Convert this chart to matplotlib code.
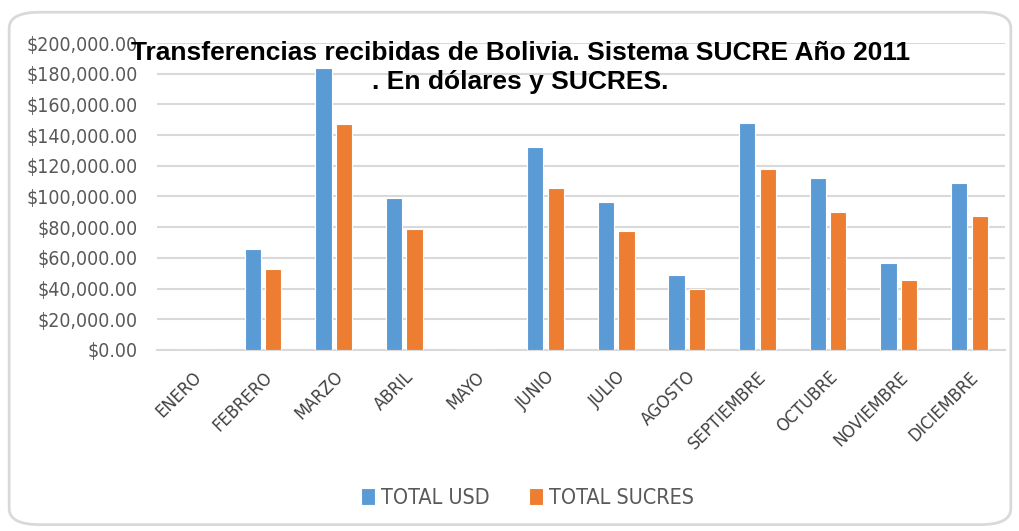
import matplotlib.pyplot as plt
import numpy as np
from matplotlib.patches import FancyBboxPatch
from matplotlib.ticker import FuncFormatter

# --- Data ---
months = ["ENERO", "FEBRERO", "MARZO", "ABRIL", "MAYO", "JUNIO", "JULIO",
          "AGOSTO", "SEPTIEMBRE", "OCTUBRE", "NOVIEMBRE", "DICIEMBRE"]
total_usd = [0, 65500, 183900, 99100, 0, 132250, 96450,
             49000, 148100, 112300, 56400, 109050]
total_sucres = [0, 52500, 147450, 78900, 0, 105800, 77200,
                39700, 118200, 89750, 45500, 87350]

BLUE = '#5B9BD5'
ORANGE = '#ED7D31'
GRID = '#D9D9D9'
TXT = '#595959'

plt.rcParams['font.family'] = ['DejaVu Sans']
plt.rcParams['font.stretch'] = 'condensed'

fig = plt.figure(figsize=(10.2, 5.31), dpi=100)
ax = fig.add_axes([0.154, 0.341, 0.831, 0.578])

# rounded chart border
border = FancyBboxPatch((0.009, 0.012), 0.982, 0.965, boxstyle="round,pad=0,rounding_size=0.03",
                        transform=fig.transFigure, facecolor='white', edgecolor=GRID,
                        linewidth=2, zorder=-10)
fig.patches.append(border)

x = np.arange(len(months))
w = 0.23
ax.bar(x - 0.145, total_usd, width=w, color=BLUE, edgecolor='white', linewidth=0.8,
       label='TOTAL USD', zorder=3)
ax.bar(x + 0.145, total_sucres, width=w, color=ORANGE, edgecolor='white', linewidth=0.8,
       label='TOTAL SUCRES', zorder=3)

ax.set_xlim(-0.5, len(months) - 0.5)
ax.set_ylim(0, 200000)
ax.set_yticks(np.arange(0, 200001, 20000))
ax.yaxis.set_major_formatter(FuncFormatter(lambda v, p: f"${v:,.2f}"))
ax.grid(axis='y', color=GRID, linewidth=1.5, zorder=0)
ax.set_axisbelow(True)

ax.set_xticks(x)
ax.set_xticklabels(months, rotation=45, ha='right', va='top', rotation_mode='anchor',
                   fontsize=13, color='#404040')
ax.tick_params(axis='both', length=0)
ax.tick_params(axis='y', labelsize=14, labelcolor=TXT, pad=14)
ax.tick_params(axis='x', pad=13)

for s in ['top', 'right', 'left']:
    ax.spines[s].set_visible(False)
ax.spines['bottom'].set_color(GRID)
ax.spines['bottom'].set_linewidth(1.5)

fig.text(0.51, 0.873, "Transferencias recibidas de Bolivia. Sistema SUCRE Año 2011\n. En dólares y SUCRES.",
         ha='center', va='center', fontsize=19, fontweight='bold', color='black',
         family=['Liberation Sans', 'DejaVu Sans'], fontstretch='normal', linespacing=1.25, zorder=10)

fig.legend(loc='center', bbox_to_anchor=(0.517, 0.062), ncol=2, frameon=False,
           fontsize=15.5, labelcolor=TXT, handlelength=0.65, handleheight=0.85,
           handletextpad=0.3, columnspacing=1.8)

fig.savefig('out.png', dpi=100)
